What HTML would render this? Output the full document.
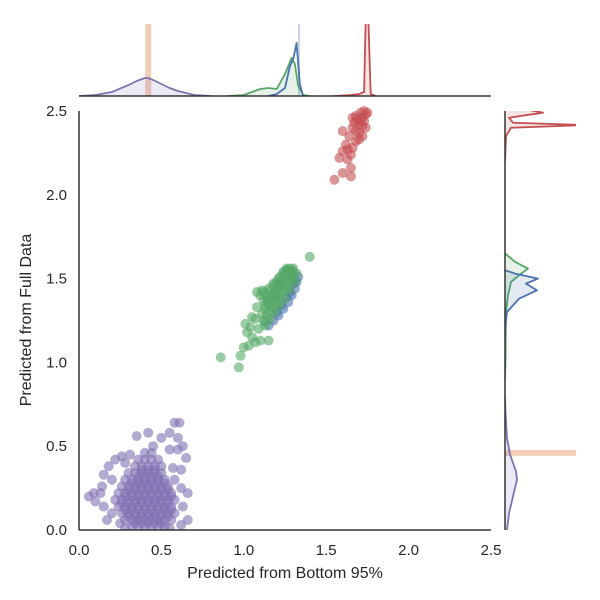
<!DOCTYPE html>
<html><head><meta charset="utf-8"><style>
body{margin:0;background:#fff}
svg{display:block;font-family:"Liberation Sans","DejaVu Sans",sans-serif}
</style></head><body>
<svg id="chart" width="600" height="600" viewBox="0 0 600 600" xmlns="http://www.w3.org/2000/svg">
<rect width="600" height="600" fill="#fff"/>
<g id="scatter"></g>
<g id="topm"></g>
<g id="rightm"></g>
<g id="axes"></g>
</svg>
<script>
// ---- data ----
const xTicks=[0,0.5,1.0,1.5,2.0,2.5];
const yTicks=[0,0.5,1.0,1.5,2.0,2.5];
const xTickLabels=["0.0","0.5","1.0","1.5","2.0","2.5"];
const yTickLabels=["0.0","0.5","1.0","1.5","2.0","2.5"];
const purpleX=[0.32,0.36,0.40,0.44,0.48,0.52,
0.28,0.32,0.36,0.40,0.44,0.48,0.52,0.56,
0.26,0.30,0.34,0.38,0.42,0.46,0.50,0.54,0.58,
0.24,0.28,0.32,0.36,0.40,0.44,0.48,0.52,0.56,
0.22,0.26,0.30,0.34,0.38,0.42,0.46,0.50,0.54,0.58,
0.24,0.28,0.32,0.36,0.40,0.44,0.48,0.52,0.56,
0.26,0.30,0.34,0.38,0.42,0.46,0.50,0.54,
0.28,0.32,0.36,0.40,0.44,0.48,0.52,
0.30,0.34,0.38,0.42,0.46,0.50,
0.34,0.38,0.42,0.46,0.50,
0.36,0.40,0.44,0.48,
0.40,0.44,
0.06,0.09,0.14,0.15,0.18,0.22,0.26,0.31,0.28,0.45,0.50,0.55,0.58,0.61,0.60,0.63,0.65,0.60,0.66,0.63,0.66,0.62,0.20,0.15,0.13,0.10,0.58,0.62,0.57,0.25,0.28,0.55,0.35,0.42,0.55,0.62,0.20,0.17];
const purpleY=[0.02,0.02,0.02,0.02,0.02,0.02,
0.06,0.06,0.06,0.06,0.06,0.06,0.06,0.06,
0.10,0.10,0.10,0.10,0.10,0.10,0.10,0.10,0.10,
0.14,0.14,0.14,0.14,0.14,0.14,0.14,0.14,0.14,
0.18,0.18,0.18,0.18,0.18,0.18,0.18,0.18,0.18,0.18,
0.22,0.22,0.22,0.22,0.22,0.22,0.22,0.22,0.22,
0.26,0.26,0.26,0.26,0.26,0.26,0.26,0.26,
0.30,0.30,0.30,0.30,0.30,0.30,0.30,
0.34,0.34,0.34,0.34,0.34,0.34,
0.38,0.38,0.38,0.38,0.38,
0.42,0.42,0.42,0.42,
0.46,0.46,
0.20,0.22,0.26,0.33,0.38,0.42,0.44,0.45,0.40,0.50,0.55,0.58,0.64,0.64,0.55,0.50,0.43,0.48,0.22,0.14,0.06,0.03,0.10,0.14,0.22,0.17,0.30,0.25,0.37,0.04,0.01,0.01,0.56,0.58,0.48,0.36,0.30,0.06];
const purpleX2=[0.34,0.38,0.42,0.46,0.50,0.30,0.34,0.38,0.42,0.46,0.50,0.54,0.28,0.32,0.36,0.40,0.44,0.48,0.52,0.56,0.26,0.30,0.34,0.38,0.42,0.46,0.50,0.54,0.28,0.32,0.36,0.40,0.44,0.48,0.52,0.56,0.30,0.34,0.38,0.42,0.46,0.50,0.54,0.32,0.36,0.40,0.44,0.48,0.52,0.36,0.40,0.44,0.48,0.38,0.42,0.46];
const purpleY2=[0.04,0.04,0.04,0.04,0.04,0.08,0.08,0.08,0.08,0.08,0.08,0.08,0.12,0.12,0.12,0.12,0.12,0.12,0.12,0.12,0.16,0.16,0.16,0.16,0.16,0.16,0.16,0.16,0.20,0.20,0.20,0.20,0.20,0.20,0.20,0.20,0.24,0.24,0.24,0.24,0.24,0.24,0.24,0.28,0.28,0.28,0.28,0.28,0.28,0.32,0.32,0.32,0.32,0.36,0.36,0.36];
const blueX=[1.18,1.21,1.24,1.27,1.29,1.31,1.32,1.33,1.20,1.23,1.26,1.15,1.30,1.28];
const blueY=[1.25,1.28,1.32,1.36,1.40,1.44,1.48,1.51,1.30,1.34,1.39,1.22,1.47,1.42];
const greenX=[1.12,1.14,1.16,1.18,1.20,1.22,1.24,1.26,1.28,1.30,1.29,1.27,1.25,1.23,1.21,1.19,1.17,1.15,1.13,1.11,1.10,1.12,1.15,1.18,1.21,1.24,1.26,1.30,1.32,1.31,1.28,1.25,1.22,1.19,1.16,1.13,1.09,1.08,1.14,1.20,
1.16,1.18,1.20,1.22,1.24,1.26,1.28,1.30,1.13,1.15,1.17,1.19,1.21,1.23,1.25,1.27,1.29,1.12,1.14,1.16,1.18,1.20,1.22,1.24,1.26,1.28,
0.86,0.97,0.98,1.00,1.03,1.02,1.05,1.07,1.10,1.15,1.13,1.07,1.04,1.05,1.01,1.40,1.08,1.11];
const greenY=[1.25,1.28,1.30,1.33,1.36,1.39,1.42,1.45,1.48,1.51,1.55,1.53,1.50,1.47,1.44,1.41,1.38,1.35,1.32,1.29,1.40,1.42,1.44,1.47,1.50,1.53,1.56,1.56,1.53,1.48,1.43,1.38,1.34,1.30,1.26,1.22,1.20,1.33,1.38,1.39,
1.33,1.36,1.39,1.42,1.45,1.48,1.51,1.54,1.34,1.37,1.40,1.43,1.46,1.49,1.52,1.55,1.52,1.37,1.40,1.43,1.46,1.48,1.51,1.54,1.55,1.56,
1.03,0.97,1.04,1.09,1.10,1.18,1.15,1.12,1.13,1.13,1.24,1.26,1.21,1.27,1.23,1.63,1.42,1.43];
const redX=[1.55,1.60,1.65,1.58,1.60,1.63,1.65,1.62,1.64,1.66,1.68,1.66,1.68,1.70,1.72,1.74,1.75,1.71,1.73,1.70,1.72,1.69,1.67,1.74,1.60,1.63,1.65,1.73,1.66,1.70,1.72,1.68,1.71];
const redY=[2.09,2.13,2.11,2.22,2.26,2.21,2.16,2.30,2.35,2.28,2.32,2.40,2.38,2.42,2.46,2.48,2.49,2.49,2.44,2.37,2.35,2.45,2.43,2.40,2.38,2.27,2.24,2.50,2.46,2.33,2.41,2.47,2.44];
// top marginal KDE (value, height px)
const topPurpleV=[0.0,0.1,0.2,0.3,0.35,0.4,0.42,0.45,0.5,0.55,0.6,0.7,0.8];
const topPurpleD=[0,1,4,11,15,18,18,16,12,8,5,1,0];
const topGreenV=[0.9,1.0,1.05,1.1,1.15,1.2,1.25,1.29,1.31,1.33,1.36,1.4];
const topGreenD=[0,1,4,7,8,7,22,38,32,10,1,0];
const topBlueV=[1.15,1.2,1.25,1.28,1.30,1.32,1.34,1.36];
const topBlueD=[0,2,8,30,37,53,12,0];
const topRedV=[1.55,1.65,1.70,1.73,1.74,1.755,1.77,1.8];
const topRedD=[0,1,2,4,80,80,2,0];
// right marginal KDE (value, width px)
const rPurpleV=[0.0,0.1,0.2,0.3,0.35,0.45,0.55,0.7,0.8];
const rPurpleD=[2,4,8,12,11,5,2,0.5,0];
const rGreenV=[0.9,1.0,1.3,1.4,1.48,1.52,1.56,1.60,1.65];
const rGreenD=[0,0.5,1,3,6,14,23,10,0];
const rBlueV=[1.2,1.30,1.38,1.43,1.47,1.50,1.53,1.55];
const rBlueD=[0,2,14,32,21,33,10,0];
const rRedV=[2.2,2.35,2.40,2.416,2.43,2.46,2.49,2.51];
const rRedD=[0,1,6,80,8,4,38,20];
// ---- scales ----
const X0=79,X1=491,Y0=530,Y1=111;
const sx=v=>X0+(v/2.5)*(X1-X0);
const sy=v=>Y0-(v/2.5)*(Y0-Y1);
const NS="http://www.w3.org/2000/svg";
function mk(tag,attrs,parent){const e=document.createElementNS(NS,tag);for(const k in attrs)e.setAttribute(k,attrs[k]);parent.appendChild(e);return e;}
const sc=document.getElementById('scatter');
const cpS=mk('clipPath',{id:'sclip'},sc);mk('rect',{x:X0,y:Y1-6,width:X1-X0+6,height:Y0-Y1+6},cpS);
const sg=mk('g',{'clip-path':'url(#sclip)'},sc);
function pts(xs,ys,col,name){for(let i=0;i<xs.length;i++){const c=mk('circle',{cx:sx(xs[i]),cy:sy(ys[i]),r:5,fill:col,'fill-opacity':0.6},sg);

}}
pts(purpleX,purpleY,'#8172b2','purple-point');
pts(purpleX2,purpleY2,'#8172b2','purple-point');
pts(blueX,blueY,'#4c72b0','blue-point');
pts(greenX,greenY,'#55a868','green-point');
pts(redX,redY,'#c44e52','red-point');
// top marginal
const tm=document.getElementById('topm');
const TB=96,TT=24;
const tcp=mk('clipPath',{id:'tc'},tm);mk('rect',{x:X0,y:TT,width:X1-X0,height:TB-TT},tcp);
const tg=mk('g',{'clip-path':'url(#tc)'},tm);
const ob=mk('rect',{x:sx(0.42)-3,y:TT,width:6,height:TB-TT,fill:'#f0b89a','fill-opacity':0.7},tg);


const bl=mk('rect',{x:sx(1.335)-1,y:TT,width:2,height:TB-TT,fill:'#4c72b0','fill-opacity':0.3},tg);


function topK(vs,ds,col,name,fill){let d='';for(let i=0;i<vs.length;i++)d+=(i?'L':'M')+sx(vs[i])+','+(TB-ds[i]);
if(fill){const f=mk('path',{d:d+'L'+sx(vs[vs.length-1])+','+TB+'L'+sx(vs[0])+','+TB+'Z',fill:col,'fill-opacity':0.15},tg);

}
const p=mk('path',{d:d,fill:'none',stroke:col,'stroke-width':1.8,'stroke-linejoin':'round'},tg);

}
topK(topPurpleV,topPurpleD,'#8172b2','top-purple-kde',true);
topK(topGreenV,topGreenD,'#55a868','top-green-kde',true);
topK(topBlueV,topBlueD,'#4c72b0','top-blue-kde',false);
topK(topRedV,topRedD,'#c44e52','top-red-kde',true);
// right marginal
const rm=document.getElementById('rightm');
const RL=505,RR=576;
const cp=mk('clipPath',{id:'rc'},rm);mk('rect',{x:RL,y:Y1,width:RR-RL,height:Y0-Y1},cp);
const rg=mk('g',{'clip-path':'url(#rc)'},rm);
const ro=mk('rect',{x:RL,y:sy(0.46)-3,width:RR-RL,height:6,fill:'#f0b89a','fill-opacity':0.7},rg);


function rK(vs,ds,col,name,fill){let d='';for(let i=0;i<vs.length;i++)d+=(i?'L':'M')+(RL+ds[i])+','+sy(vs[i]);
if(fill){const f=mk('path',{d:d+'L'+RL+','+sy(vs[vs.length-1])+'L'+RL+','+sy(vs[0])+'Z',fill:col,'fill-opacity':0.15},rg);

}
const p=mk('path',{d:d,fill:'none',stroke:col,'stroke-width':1.8,'stroke-linejoin':'round'},rg);

}
rK(rPurpleV,rPurpleD,'#8172b2','right-purple-kde',true);
rK(rGreenV,rGreenD,'#55a868','right-green-kde',true);
rK(rBlueV,rBlueD,'#4c72b0','right-blue-kde',true);
rK(rRedV,rRedD,'#c44e52','right-red-kde',true);
// axes
const ax=document.getElementById('axes');
const spines=[[X0,Y1,X0,Y0,'y-axis-spine'],[X0,Y0,X1,Y0,'x-axis-spine'],[X0,TB,X1,TB,'top-marginal-spine'],[RL,Y1,RL,Y0,'right-marginal-spine']];
spines.forEach(s=>{const l=mk('line',{x1:s[0],y1:s[1],x2:s[2],y2:s[3],stroke:'#333','stroke-width':1.5},ax);

});
xTicks.forEach((v,i)=>{const t=mk('text',{x:sx(v),y:555,'text-anchor':'middle','font-size':15,fill:'#262626'},ax);t.textContent=xTickLabels[i];

});
yTicks.forEach((v,i)=>{const t=mk('text',{x:67,y:sy(v)+5,'text-anchor':'end','font-size':15,fill:'#262626'},ax);t.textContent=yTickLabels[i];

});
const xt=mk('text',{x:285,y:578,'text-anchor':'middle','font-size':16,fill:'#262626'},ax);xt.textContent='Predicted from Bottom 95%';


const yt=mk('text',{x:31,y:320,'text-anchor':'middle','font-size':16,fill:'#262626',transform:'rotate(-90 31 320)'},ax);yt.textContent='Predicted from Full Data';


</script>
</body></html>
